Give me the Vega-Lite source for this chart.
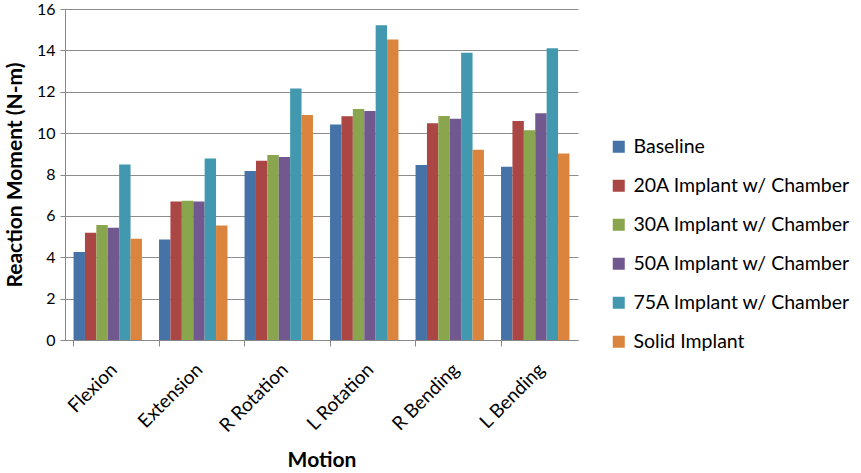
{
  "$schema": "https://vega.github.io/schema/vega-lite/v6.json",
  "autosize": "none",
  "width": 513,
  "height": 331,
  "padding": {"left": 65, "top": 9, "right": 283, "bottom": 133},
  "background": "white",
  "config": {
    "font": "Lato",
    "view": {"stroke": null},
    "axis": {"labelFont": "Lato", "titleFont": "Lato", "labelColor": "black", "titleColor": "black"}
  },
  "data": {
    "values": [
      {"motion": "Flexion", "group": "Baseline", "moment": 4.25},
      {"motion": "Flexion", "group": "20A Implant w/ Chamber", "moment": 5.19},
      {"motion": "Flexion", "group": "30A Implant w/ Chamber", "moment": 5.56},
      {"motion": "Flexion", "group": "50A Implant w/ Chamber", "moment": 5.43},
      {"motion": "Flexion", "group": "75A Implant w/ Chamber", "moment": 8.48},
      {"motion": "Flexion", "group": "Solid Implant", "moment": 4.9},
      {"motion": "Extension", "group": "Baseline", "moment": 4.86},
      {"motion": "Extension", "group": "20A Implant w/ Chamber", "moment": 6.7},
      {"motion": "Extension", "group": "30A Implant w/ Chamber", "moment": 6.73},
      {"motion": "Extension", "group": "50A Implant w/ Chamber", "moment": 6.7},
      {"motion": "Extension", "group": "75A Implant w/ Chamber", "moment": 8.77},
      {"motion": "Extension", "group": "Solid Implant", "moment": 5.53},
      {"motion": "R Rotation", "group": "Baseline", "moment": 8.17},
      {"motion": "R Rotation", "group": "20A Implant w/ Chamber", "moment": 8.67},
      {"motion": "R Rotation", "group": "30A Implant w/ Chamber", "moment": 8.94},
      {"motion": "R Rotation", "group": "50A Implant w/ Chamber", "moment": 8.85},
      {"motion": "R Rotation", "group": "75A Implant w/ Chamber", "moment": 12.16},
      {"motion": "R Rotation", "group": "Solid Implant", "moment": 10.88},
      {"motion": "L Rotation", "group": "Baseline", "moment": 10.42},
      {"motion": "L Rotation", "group": "20A Implant w/ Chamber", "moment": 10.82},
      {"motion": "L Rotation", "group": "30A Implant w/ Chamber", "moment": 11.17},
      {"motion": "L Rotation", "group": "50A Implant w/ Chamber", "moment": 11.07},
      {"motion": "L Rotation", "group": "75A Implant w/ Chamber", "moment": 15.22},
      {"motion": "L Rotation", "group": "Solid Implant", "moment": 14.52},
      {"motion": "R Bending", "group": "Baseline", "moment": 8.46},
      {"motion": "R Bending", "group": "20A Implant w/ Chamber", "moment": 10.48},
      {"motion": "R Bending", "group": "30A Implant w/ Chamber", "moment": 10.83},
      {"motion": "R Bending", "group": "50A Implant w/ Chamber", "moment": 10.69},
      {"motion": "R Bending", "group": "75A Implant w/ Chamber", "moment": 13.89},
      {"motion": "R Bending", "group": "Solid Implant", "moment": 9.2},
      {"motion": "L Bending", "group": "Baseline", "moment": 8.38},
      {"motion": "L Bending", "group": "20A Implant w/ Chamber", "moment": 10.59},
      {"motion": "L Bending", "group": "30A Implant w/ Chamber", "moment": 10.14},
      {"motion": "L Bending", "group": "50A Implant w/ Chamber", "moment": 10.96},
      {"motion": "L Bending", "group": "75A Implant w/ Chamber", "moment": 14.1},
      {"motion": "L Bending", "group": "Solid Implant", "moment": 9.01}
    ]
  },
  "mark": {"type": "bar"},
  "encoding": {
    "x": {
      "field": "motion",
      "type": "nominal",
      "sort": ["Flexion", "Extension", "R Rotation", "L Rotation", "R Bending", "L Bending"],
      "scale": {"paddingInner": 0.2, "paddingOuter": 0.1},
      "axis": {
        "title": "Motion",
        "titleFontSize": 21,
        "titleFontWeight": "bold",
        "titlePadding": 14,
        "labelAngle": -45,
        "labelFontSize": 19,
        "labelPadding": 14,
        "bandPosition": 0,
        "tickColor": "#888888",
        "tickSize": 6,
        "domainColor": "#888888",
        "grid": false
      }
    },
    "xOffset": {
      "field": "group",
      "type": "nominal",
      "sort": ["Baseline", "20A Implant w/ Chamber", "30A Implant w/ Chamber", "50A Implant w/ Chamber", "75A Implant w/ Chamber", "Solid Implant"],
      "scale": {"paddingInner": 0, "paddingOuter": 0}
    },
    "y": {
      "field": "moment",
      "type": "quantitative",
      "scale": {"domain": [0, 16], "nice": false},
      "axis": {
        "title": "Reaction Moment (N-m)",
        "titleFontSize": 21,
        "titleFontWeight": "bold",
        "titlePadding": 11,
        "values": [0, 2, 4, 6, 8, 10, 12, 14, 16],
        "labelFontSize": 16,
        "labelPadding": 5,
        "tickColor": "#888888",
        "tickSize": 5,
        "domainColor": "#888888",
        "grid": true,
        "gridColor": "#8c8c8c",
        "gridOpacity": 1
      }
    },
    "color": {
      "field": "group",
      "type": "nominal",
      "sort": ["Baseline", "20A Implant w/ Chamber", "30A Implant w/ Chamber", "50A Implant w/ Chamber", "75A Implant w/ Chamber", "Solid Implant"],
      "scale": {"range": ["#4572A7", "#AA4643", "#89A54E", "#71588F", "#4198AF", "#DB843D"]},
      "legend": {
        "title": null,
        "orient": "none",
        "legendX": 544,
        "legendY": 128,
        "symbolType": "square",
        "symbolSize": 144,
        "symbolStrokeWidth": 0,
        "symbolOpacity": 1,
        "labelFontSize": 19.5,
        "labelColor": "black",
        "labelOffset": 5,
        "rowPadding": 18,
        "labelLimit": 300
      }
    }
  }
}
